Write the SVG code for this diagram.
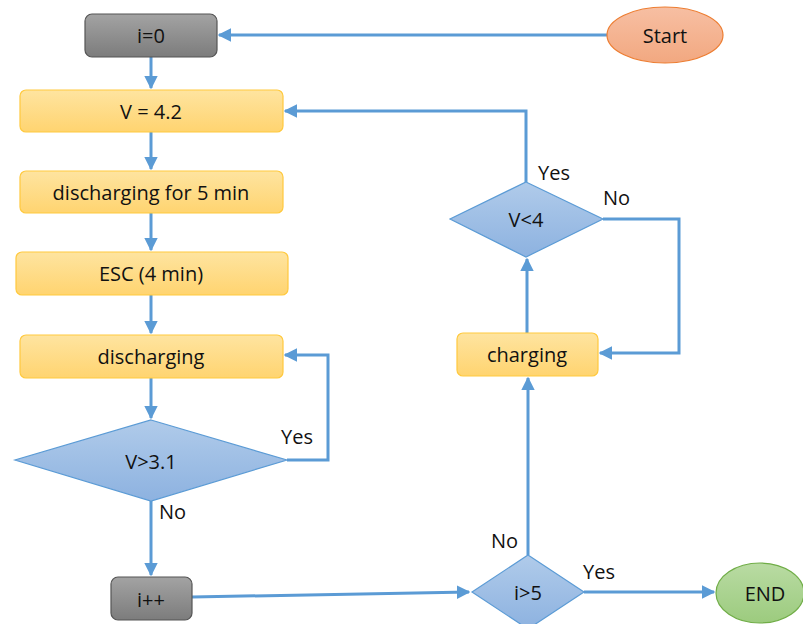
<svg xmlns="http://www.w3.org/2000/svg" width="803" height="624" viewBox="0 0 803 624">
<defs>
<linearGradient id="gGray" x1="0" y1="0" x2="0" y2="1"><stop offset="0" stop-color="#a3a3a3"/><stop offset="1" stop-color="#7c7c7c"/></linearGradient>
<linearGradient id="gOrange" x1="0" y1="0" x2="0" y2="1"><stop offset="0" stop-color="#fee4a0"/><stop offset="1" stop-color="#ffd470"/></linearGradient>
<linearGradient id="gBlue" x1="0" y1="0" x2="0" y2="1"><stop offset="0" stop-color="#b0cbea"/><stop offset="1" stop-color="#8db2e0"/></linearGradient>
<linearGradient id="gStart" x1="0" y1="0" x2="0" y2="1"><stop offset="0" stop-color="#f7bfa3"/><stop offset="1" stop-color="#f2a880"/></linearGradient>
<linearGradient id="gEnd" x1="0" y1="0" x2="0" y2="1"><stop offset="0" stop-color="#b9dba3"/><stop offset="1" stop-color="#9ccb7e"/></linearGradient>
<marker id="arr" viewBox="0 0 10 10" refX="9" refY="5" markerWidth="4.5" markerHeight="4.5" orient="auto" markerUnits="strokeWidth"><path d="M0,0 L10,5 L0,10 z" fill="#5b9bd5"/></marker>
</defs>
<style>
text{font-family:"Open Sans","Liberation Sans",sans-serif;font-size:20px;fill:#111;text-anchor:middle;dominant-baseline:central}
.lbl{text-anchor:start}
.gray{fill:url(#gGray);stroke:#555;stroke-width:1.2}
.org{fill:url(#gOrange);stroke:#ffc93e;stroke-width:1.2}
.dia{fill:url(#gBlue);stroke:#5b9bd5;stroke-width:1.2}
.c{fill:none;stroke:#5b9bd5;stroke-width:3;marker-end:url(#arr)}
</style>
<g id="connectors">
<path class="c" d="M607,35 L219,35"/>
<path class="c" d="M151,57 L151,88"/>
<path class="c" d="M151,132 L151,169"/>
<path class="c" d="M151,213 L151,250"/>
<path class="c" d="M151,295 L151,333"/>
<path class="c" d="M151,378 L151,418"/>
<path class="c" d="M151,501 L151,575"/>
<path class="c" d="M287,460 L328,460 L328,355 L285,355"/>
<path class="c" d="M192,597 L469,592"/>
<path class="c" d="M584,592 L714,592"/>
<path class="c" d="M528,555 L528,378"/>
<path class="c" d="M527,333 L527,259"/>
<path class="c" d="M603,219 L679,219 L679,353 L600,353"/>
<path class="c" d="M526,182 L526,111 L285,111"/>
</g>
<g id="start"><ellipse cx="665" cy="35" rx="58" ry="28" fill="url(#gStart)" stroke="#ed7d31" stroke-width="1.2"/><text x="665" y="35">Start</text></g>
<g id="i0"><rect class="gray" x="85" y="14" width="132" height="43" rx="7"/><text x="151" y="35">i=0</text></g>
<g id="v42"><rect class="org" x="20" y="90" width="263" height="42" rx="6"/><text x="151" y="111">V = 4.2</text></g>
<g id="dis5"><rect class="org" x="20" y="171" width="263" height="42" rx="6"/><text x="151" y="192">discharging for 5 min</text></g>
<g id="esc"><rect class="org" x="16" y="252" width="272" height="43" rx="6"/><text x="151" y="273">ESC (4 min)</text></g>
<g id="dis"><rect class="org" x="20" y="335" width="263" height="43" rx="6"/><text x="151" y="356">discharging</text></g>
<g id="v31"><polygon class="dia" points="151,420 287,460 151,501 15,460"/><text x="151" y="461">V&gt;3.1</text>
<text class="lbl" x="281" y="436">Yes</text><text class="lbl" x="159" y="511">No</text></g>
<g id="ipp"><rect class="gray" x="111" y="577" width="81" height="43" rx="7"/><text x="151" y="599">i++</text></g>
<g id="i5"><polygon class="dia" points="528,555 584,592 528,629 472,592"/><text x="528" y="592">i&gt;5</text>
<text class="lbl" x="491" y="540">No</text><text class="lbl" x="583" y="571">Yes</text></g>
<g id="end"><ellipse cx="760" cy="593" rx="44" ry="30" fill="url(#gEnd)" stroke="#70ad47" stroke-width="1.2"/><text x="765" y="593">END</text></g>
<g id="charging"><rect class="org" x="457" y="333" width="141" height="43" rx="6"/><text x="527" y="354">charging</text></g>
<g id="v4"><polygon class="dia" points="526,182 603,219 526,257 450,219"/><text x="526" y="219">V&lt;4</text>
<text class="lbl" x="538" y="172">Yes</text><text class="lbl" x="603" y="197">No</text></g>
</svg>
